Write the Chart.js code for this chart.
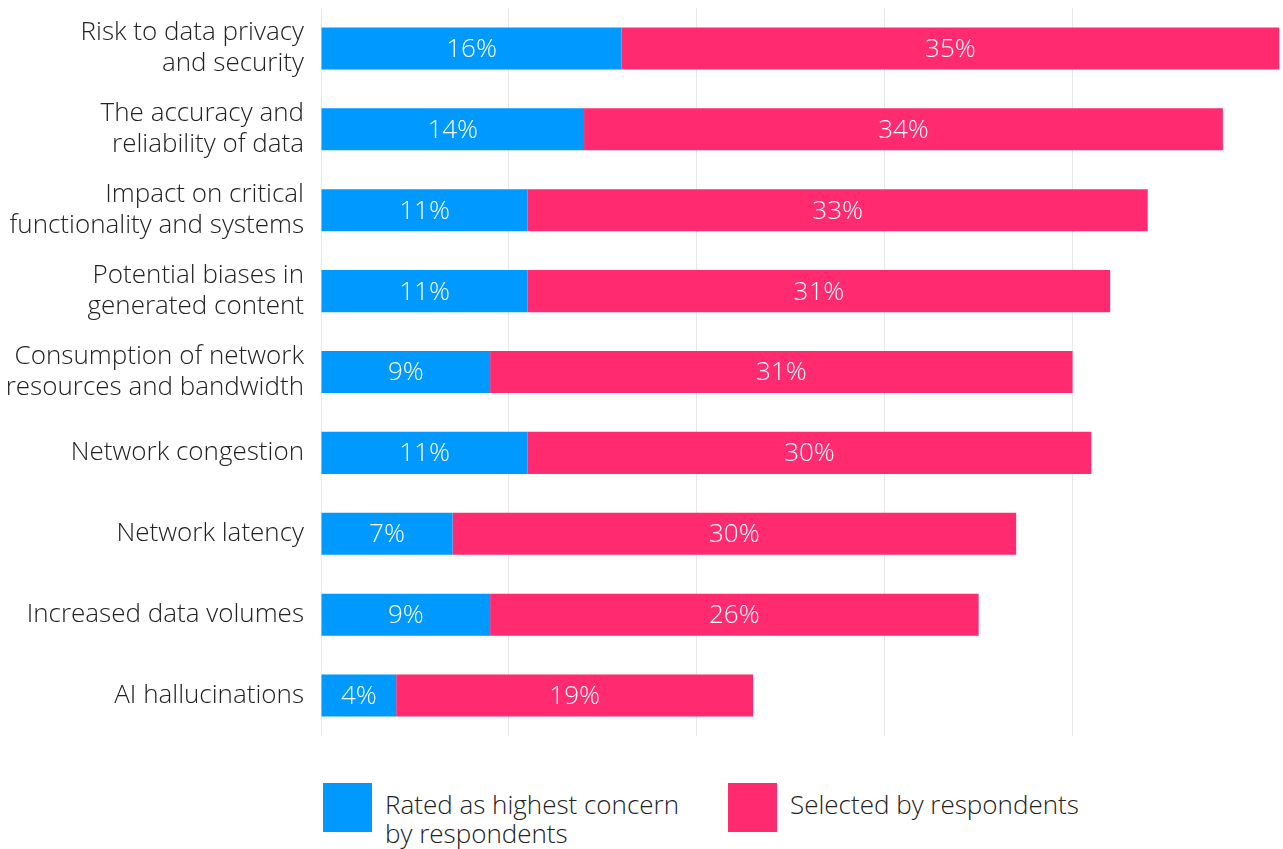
<!DOCTYPE html>
<html>
<head>
<meta charset="utf-8">
<script src="https://cdn.jsdelivr.net/npm/chart.js@4.4.1/dist/chart.umd.min.js"></script>
<style>
  html, body { margin: 0; padding: 0; background: #ffffff; }
  body { width: 1283px; height: 849px; position: relative; overflow: hidden; font-family: 'Open Sans', sans-serif; }
  #wrap { position: absolute; left: 0; top: 0; width: 1283px; height: 745px; }
  .legend { position: absolute; top: 783px; left: 323px; display: flex; font-weight: 300; font-size: 26px; color: #222; line-height: 29px; }
  .legend .item { display: flex; align-items: flex-start; }
  .legend .swatch { width: 49px; height: 49px; margin-right: 13px; flex: none; }
  .legend .txt { padding-top: 7px; }
</style>
</head>
<body>
<div id="wrap"><canvas id="chart"></canvas></div>
<div class="legend">
  <div class="item" style="width:405px"><div class="swatch" style="background:#0099ff"></div><div class="txt">Rated as highest concern<br>by respondents</div></div>
  <div class="item"><div class="swatch" style="background:#ff2a6f"></div><div class="txt">Selected by respondents</div></div>
</div>
<script>
const CATEGORIES = [
  ['Risk to data privacy', 'and security'],
  ['The accuracy and', 'reliability of data'],
  ['Impact on critical', 'functionality and systems'],
  ['Potential biases in', 'generated content'],
  ['Consumption of network', 'resources and bandwidth'],
  'Network congestion',
  'Network latency',
  'Increased data volumes',
  'AI hallucinations'
];
const HIGHEST_CONCERN = [16, 14, 11, 11, 9, 11, 7, 9, 4];
const SELECTED = [35, 34, 33, 31, 31, 30, 30, 26, 19];
const SERIES_NAMES = ['Rated as highest concern by respondents', 'Selected by respondents'];

const BLUE = '#0099ff';
const PINK = '#ff2a6f';

// white percentage labels centred in each segment
const segmentLabels = {
  id: 'segmentLabels',
  afterDatasetsDraw(chart) {
    const { ctx } = chart;
    ctx.save();
    ctx.fillStyle = '#ffffff';
    ctx.font = '300 26px "Open Sans"';
    ctx.textAlign = 'center';
    ctx.textBaseline = 'middle';
    chart.data.datasets.forEach((ds, i) => {
      chart.getDatasetMeta(i).data.forEach((bar, j) => {
        const cx = (bar.x + bar.base) / 2;
        ctx.fillText(ds.data[j] + '%', cx, bar.y + 1);
      });
    });
    ctx.restore();
  }
};

new Chart(document.getElementById('chart'), {
  type: 'bar',
  data: {
    labels: CATEGORIES,
    datasets: [
      { label: SERIES_NAMES[0], data: HIGHEST_CONCERN, backgroundColor: BLUE },
      { label: SERIES_NAMES[1], data: SELECTED, backgroundColor: PINK }
    ]
  },
  options: {
    indexAxis: 'y',
    responsive: true,
    maintainAspectRatio: false,
    animation: false,
    layout: { padding: { top: 8, bottom: 9, right: 0, left: 0 } },
    datasets: { bar: { categoryPercentage: 1, barPercentage: 0.52, borderWidth: 0 } },
    plugins: { legend: { display: false }, tooltip: { enabled: false } },
    scales: {
      x: {
        stacked: true,
        min: 0,
        max: 51.2,
        border: { display: false },
        ticks: { display: false, stepSize: 10 },
        grid: {
          drawTicks: false,
          color: (c) => (c.tick && c.tick.value >= 50 ? 'rgba(0,0,0,0)' : '#e8e8e8')
        }
      },
      y: {
        stacked: true,
        border: { display: false },
        grid: { display: false, drawTicks: false },
        ticks: {
          color: '#222222',
          padding: 17,
          font: { family: 'Open Sans', size: 26, weight: 300, lineHeight: 1.2 }
        },
        afterFit: (scale) => {
          scale.width = 321;
          scale.paddingTop = 0;
          scale.paddingBottom = 0;
        }
      }
    }
  },
  plugins: [segmentLabels]
});
</script>
</body>
</html>
